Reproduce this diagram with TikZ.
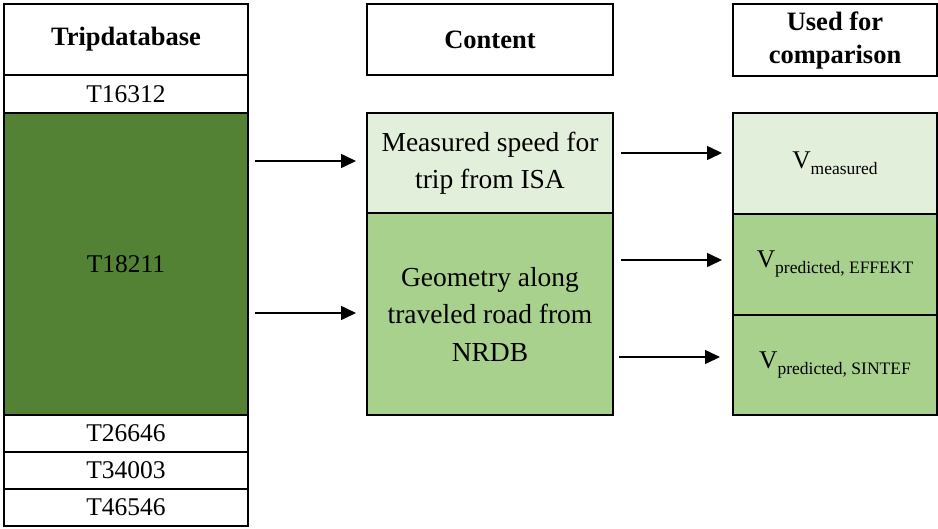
\documentclass[tikz,border=0pt]{standalone}
\usepackage{fontspec}
\setmainfont{Liberation Serif}
\usetikzlibrary{arrows.meta}
\definecolor{darkgr}{HTML}{548235}
\definecolor{lightgr}{HTML}{E2EFDA}
\definecolor{midgr}{HTML}{A9D18E}
\newcommand{\sub}[1]{\raisebox{-6pt}{\fontsize{17.5}{20}\selectfont #1}}
\begin{document}
\begin{tikzpicture}[x=1pt,y=-1pt,
  box/.style={draw=black,line width=2pt,rectangle,inner sep=2pt,outer sep=0pt,align=center,
    font=\fontsize{25.5}{38}\selectfont},
  midtext/.style={font=\fontsize{27.5}{37.5}\selectfont},
  hdr/.style={box,font=\fontsize{26.5}{33}\selectfont\bfseries},
  arr/.style={line width=1.6pt,draw=black,-{Triangle[length=15pt,width=14pt]}}]
\useasboundingbox (0,0) rectangle (938,528);
% left column
\node[hdr,minimum width=244pt,minimum height=71pt] (trip) at (126,39.5) {Tripdatabase};
\node[box,minimum width=244pt,minimum height=38pt] (t1) at (126,94) {T16312};
\node[box,fill=darkgr,minimum width=244pt,minimum height=302pt] (t2) at (126,264) {T18211};
\node[box,minimum width=244pt,minimum height=37pt] (t3) at (126,433.5) {T26646};
\node[box,minimum width=244pt,minimum height=37pt] (t4) at (126,470.5) {T34003};
\node[box,minimum width=244pt,minimum height=37pt] (t5) at (126,507.5) {T46546};
% middle column
\node[hdr,minimum width=246pt,minimum height=71pt] (content) at (490,39.5) {Content};
\node[box,midtext,fill=lightgr,minimum width=246pt,minimum height=100pt] (meas) at (490,163) {Measured speed for\\trip from ISA};
\node[box,midtext,fill=midgr,minimum width=246pt,minimum height=202pt] (geom) at (490,314) {Geometry along\\traveled road from\\NRDB};
% right column
\node[hdr,minimum width=204pt,minimum height=72pt] (used) at (835,40) {Used for\\comparison};
\node[box,fill=lightgr,minimum width=204pt,minimum height=101pt] (vm) at (835,163.5) {V\sub{measured}};
\node[box,fill=midgr,minimum width=204pt,minimum height=101pt] (ve) at (835,264.5) {V\sub{predicted, EFFEKT}};
\node[box,fill=midgr,minimum width=204pt,minimum height=100pt] (vs) at (835,365) {V\sub{predicted, SINTEF}};
% arrows
\draw[arr] ([xshift=7pt]t2.east |- 0,161) -- ([xshift=-11pt]meas.west |- 0,161);
\draw[arr] ([xshift=7pt]t2.east |- 0,313) -- ([xshift=-11pt]geom.west |- 0,313);
\draw[arr] ([xshift=8pt]meas.east |- 0,153) -- ([xshift=-11pt]vm.west |- 0,153);
\draw[arr] ([xshift=8pt]geom.east |- 0,260) -- ([xshift=-11pt]ve.west |- 0,260);
\draw[arr] ([xshift=6pt]geom.east |- 0,357) -- ([xshift=-13pt]vs.west |- 0,357);
\end{tikzpicture}
\end{document}
